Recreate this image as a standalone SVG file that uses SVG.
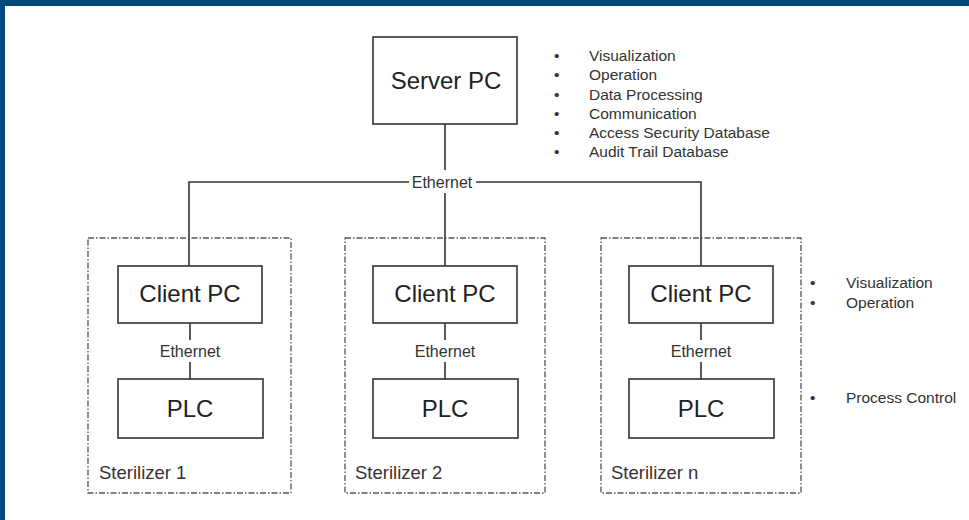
<svg xmlns="http://www.w3.org/2000/svg" width="969" height="520" viewBox="0 0 969 520">
<style>
.box{fill:#fff;stroke:#333;stroke-width:1.6}
.group{fill:none;stroke:#555;stroke-width:1.3;stroke-dasharray:6 2 1.5 2}
.big{font-family:"Liberation Sans",Arial,sans-serif;font-size:24px;fill:#222;text-anchor:middle}
.lbl{font-family:"Liberation Sans",Arial,sans-serif;font-size:16px;fill:#333;text-anchor:middle}
.li{font-family:"Liberation Sans",Arial,sans-serif;font-size:15.5px;fill:#333}
.st{font-family:"Liberation Sans",Arial,sans-serif;font-size:18.5px;fill:#333}
.ln{stroke:#333;stroke-width:1.6;fill:none}
</style>
<rect width="969" height="520" fill="#fff"/>
<rect x="0" y="0" width="969" height="6" fill="#00497A"/>
<rect x="0" y="0" width="5" height="520" fill="#00497A"/>

<g id="connectors">
<path class="ln" d="M445 124 V170"/>
<path class="ln" d="M189 266 V182 H409"/>
<path class="ln" d="M476 182 H701 V266"/>
<path class="ln" d="M445 193 V266"/>
<text class="lbl" x="442" y="187.5">Ethernet</text>
<path class="ln" d="M190 323 V340 M190 362 V379"/>
<text class="lbl" x="190" y="356.5">Ethernet</text>
<path class="ln" d="M445 323 V340 M445 362 V379"/>
<text class="lbl" x="445" y="356.5">Ethernet</text>
<path class="ln" d="M701 323 V340 M701 362 V379"/>
<text class="lbl" x="701" y="356.5">Ethernet</text>
</g>

<g id="server">
<rect class="box" x="373" y="37" width="144" height="87"/>
<text class="big" x="446" y="89">Server PC</text>
</g>

<g id="server-notes">
<g class="li">
<text x="554" y="61">•</text><text x="589" y="61">Visualization</text>
<text x="554" y="80">•</text><text x="589" y="80">Operation</text>
<text x="554" y="100">•</text><text x="589" y="100">Data Processing</text>
<text x="554" y="119">•</text><text x="589" y="119">Communication</text>
<text x="554" y="138">•</text><text x="589" y="138">Access Security Database</text>
<text x="554" y="157">•</text><text x="589" y="157">Audit Trail Database</text>
</g>
</g>

<g id="sterilizer1">
<rect class="group" x="88" y="238" width="203" height="255"/>
<text class="st" x="99" y="479">Sterilizer 1</text>
</g>
<g id="client1">
<rect class="box" x="118" y="266" width="144" height="57"/>
<text class="big" x="190" y="302">Client PC</text>
</g>
<g id="plc1">
<rect class="box" x="118" y="379" width="145" height="59"/>
<text class="big" x="190" y="417">PLC</text>
</g>

<g id="sterilizer2">
<rect class="group" x="345" y="238" width="200" height="255"/>
<text class="st" x="355" y="479">Sterilizer 2</text>
</g>
<g id="client2">
<rect class="box" x="373" y="266" width="144" height="57"/>
<text class="big" x="445" y="302">Client PC</text>
</g>
<g id="plc2">
<rect class="box" x="373" y="379" width="145" height="59"/>
<text class="big" x="445" y="417">PLC</text>
</g>

<g id="sterilizern">
<rect class="group" x="601" y="238" width="200" height="255"/>
<text class="st" x="611" y="479">Sterilizer n</text>
</g>
<g id="clientn">
<rect class="box" x="629" y="266" width="144" height="57"/>
<text class="big" x="701" y="302">Client PC</text>
</g>
<g id="plcn">
<rect class="box" x="629" y="379" width="145" height="59"/>
<text class="big" x="701" y="417">PLC</text>
</g>

<g id="client-notes">
<g class="li">
<text x="810" y="288">•</text><text x="846" y="288">Visualization</text>
<text x="810" y="308">•</text><text x="846" y="308">Operation</text>
<text x="810" y="403">•</text><text x="846" y="403">Process Control</text>
</g>
</g>
</svg>
